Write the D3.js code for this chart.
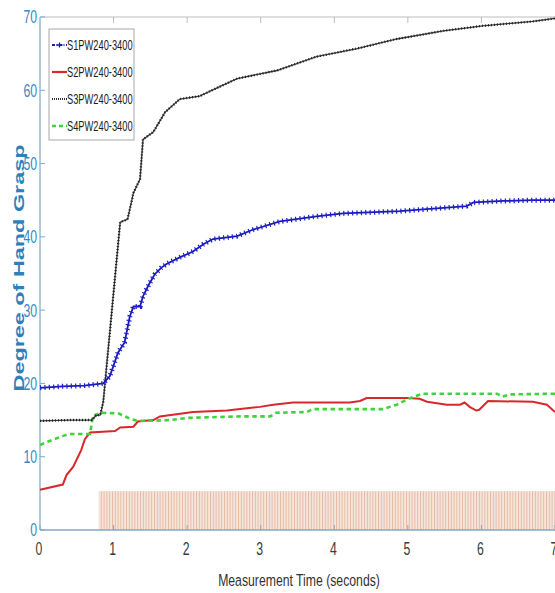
<!DOCTYPE html>
<html><head><meta charset="utf-8">
<script src="https://cdn.jsdelivr.net/npm/d3@7"></script>
<style>html,body{margin:0;padding:0;background:#fff;}svg{display:block;}</style>
</head><body>
<script>
// ---- data ----
const xTicks = [0,1,2,3,4,5,6,7];
const yTicks = [0,10,20,30,40,50,60,70];
const seriesNames = ["S1PW240-3400","S2PW240-3400","S3PW240-3400","S4PW240-3400"];

const s1T = [0,0.3,0.6,0.86,0.95,1.06,1.15,1.22,1.27,1.36,1.40,1.48,1.56,1.65,1.72,1.90,2.08,2.22,2.35,2.68,2.90,3.26,3.76,4.12,4.89,5.80,5.89,6.30,6.70,7.0];
const s1V = [19.4,19.6,19.7,20.0,21.0,24.2,25.6,29.1,30.5,30.5,31.9,33.5,34.9,35.8,36.3,37.2,38.0,39.0,39.7,40.1,41.0,42.1,42.8,43.2,43.5,44.2,44.7,44.9,45.0,45.0];

const s2T = [0,0.31,0.36,0.45,0.56,0.61,0.68,1.02,1.09,1.27,1.33,1.54,1.63,2.08,2.54,2.72,2.99,3.17,3.44,4.21,4.35,4.44,4.99,5.16,5.26,5.53,5.71,5.77,5.84,5.93,5.97,6.09,6.70,6.89,7.0];
const s2V = [5.5,6.2,7.5,8.6,10.9,12.4,13.3,13.5,14.0,14.1,14.8,15.0,15.5,16.1,16.3,16.5,16.8,17.1,17.4,17.4,17.6,18.0,18.0,17.9,17.5,17.1,17.1,17.4,16.8,16.3,16.4,17.6,17.5,17.1,16.1];

const s3T = [0,0.4,0.70,0.76,0.82,0.86,1.09,1.19,1.27,1.36,1.40,1.54,1.70,1.90,2.17,2.40,2.68,3.22,3.76,4.31,4.85,5.48,6.02,6.70,7.0];
const s3V = [14.9,15.0,15.0,15.6,15.7,17.5,42.0,42.4,46.0,47.9,53.3,54.3,57.0,58.8,59.2,60.3,61.6,62.7,64.6,65.7,67.0,68.1,68.8,69.4,69.8];

const s4T = [0,0.12,0.3,0.4,0.68,0.72,0.84,1.07,1.22,1.32,1.5,1.77,2.0,2.72,3.13,3.21,3.63,3.71,4.66,4.85,5.03,5.2,6.21,6.29,6.39,7.0];
const s4V = [11.6,12.1,12.8,13.1,13.1,15.6,16.0,15.9,15.2,14.9,14.9,15.0,15.3,15.5,15.5,16.0,16.1,16.5,16.5,17.1,18.0,18.6,18.6,18.2,18.5,18.6];

const stimStart = 0.8, stimEnd = 7, stimLevel = 5.3;

// ---- layout ----
const W = 555, H = 593;
const x = d3.scaleLinear().domain([0,7]).range([40,555]);
const y = d3.scaleLinear().domain([0,70]).range([530,17]);

const svg = d3.select("body").append("svg").attr("width",W).attr("height",H);
const defs = svg.append("defs");
const pat = defs.append("pattern").attr("id","stripes").attr("patternUnits","userSpaceOnUse")
  .attr("width",2.8).attr("height",10);
pat.append("rect").attr("width",2.8).attr("height",10).attr("fill","#f7e6dd");
pat.append("rect").attr("x",0).attr("width",1).attr("height",10).attr("fill","#e4bba6");

// stimulus band
svg.append("rect")
  .attr("x",x(stimStart)).attr("y",y(stimLevel))
  .attr("width",x(stimEnd)-x(stimStart)).attr("height",y(0)-y(stimLevel))
  .attr("fill","url(#stripes)");

// frame: top border
svg.append("line").attr("x1",x(0)).attr("x2",x(7)).attr("y1",y(70)).attr("y2",y(70))
  .attr("stroke","#bdbdbd").attr("stroke-width",1.2);
// top ticks
svg.selectAll(".tt").data(xTicks.filter(d=>d>0&&d<7)).join("line")
  .attr("x1",d=>x(d)).attr("x2",d=>x(d)).attr("y1",y(70)).attr("y2",y(70)+6)
  .attr("stroke","#bdbdbd");

// left axis
svg.append("line").attr("x1",x(0)).attr("x2",x(0)).attr("y1",y(0)).attr("y2",y(70))
  .attr("stroke","#78acd2").attr("stroke-width",1.2);
svg.selectAll(".yt").data(yTicks).join("line")
  .attr("x1",x(0)).attr("x2",x(0)+5).attr("y1",d=>y(d)).attr("y2",d=>y(d))
  .attr("stroke","#78acd2");
// bottom axis
svg.append("line").attr("x1",x(0)).attr("x2",x(7)).attr("y1",y(0)).attr("y2",y(0))
  .attr("stroke","#8aa6bf").attr("stroke-width",1.5);
svg.selectAll(".xt").data(xTicks).join("line")
  .attr("x1",d=>x(d)).attr("x2",d=>x(d)).attr("y1",y(0)).attr("y2",y(0)-5)
  .attr("stroke","#8aa6bf");

function ctext(parent, tx, ty, str, size, sx, color, anchor, weight){
  return parent.append("text")
    .attr("transform",`translate(${tx},${ty}) scale(${sx},1)`)
    .attr("text-anchor",anchor).attr("dominant-baseline","central")
    .attr("font-family","Liberation Sans, Arial, sans-serif")
    .attr("font-size",size).attr("font-weight",weight||"normal")
    .attr("fill",color).text(str);
}
// y tick labels
yTicks.forEach(d=>ctext(svg, 37, y(d), d, 18, 0.68, "#3487c2", "end"));
// x tick labels
xTicks.forEach(d=>ctext(svg, x(d)-1, 549, d, 18, 0.68, "#3a3a3a", "middle"));
// x title
ctext(svg, 299, 580, "Measurement Time (seconds)", 17, 0.72, "#333", "middle");
// y title
svg.append("text")
  .attr("transform",`translate(18,268) rotate(-90)`)
  .attr("text-anchor","middle").attr("dominant-baseline","central")
  .attr("font-family","Liberation Sans, Arial, sans-serif")
  .attr("font-size",15).attr("font-weight","bold").attr("fill","#2f7fb9")
  .attr("textLength",247).attr("lengthAdjust","spacingAndGlyphs")
  .text("Degree of Hand Grasp");

// ---- series ----
const line = d3.line().x(d=>x(d[0])).y(d=>y(d[1]));
const zip = (t,v)=>t.map((d,i)=>[d,v[i]]);
const g = svg.append("g");

// S2 red
g.append("path").datum(zip(s2T,s2V)).attr("d",line).attr("fill","none")
  .attr("stroke","#d8282c").attr("stroke-width",2);
// S4 green dashed
g.append("path").datum(zip(s4T,s4V)).attr("d",line).attr("fill","none")
  .attr("stroke","#3fd43a").attr("stroke-width",2.6).attr("stroke-dasharray","4.5,3.5");
// S3 black dotted
g.append("path").datum(zip(s3T,s3V)).attr("d",line).attr("fill","none")
  .attr("stroke","#3a3a3a").attr("stroke-width",1.3);
g.append("path").datum(zip(s3T,s3V)).attr("d",line).attr("fill","none")
  .attr("stroke","#222").attr("stroke-width",2.4).attr("stroke-dasharray","1,2");
// S1 blue with markers
g.append("path").datum(zip(s1T,s1V)).attr("d",line).attr("fill","none")
  .attr("stroke","#1a1ab8").attr("stroke-width",1.8);
g.append("path").datum(zip(s1T,s1V)).attr("d",line).attr("fill","none")
  .attr("stroke","#2020c8").attr("stroke-width",5).attr("stroke-dasharray","1.2,3.2");

// ---- legend ----
const lg = svg.append("g");
lg.append("rect").attr("x",49).attr("y",29).attr("width",85).attr("height",111)
  .attr("fill","#fff").attr("stroke","#a8a8a8").attr("stroke-width",1);
const rowY = [45,72,99,126];
const lstyles = [
  {c:"#1a1ab8", w:1.8, da:"3,1.5,1,1.5", marker:true},
  {c:"#d8282c", w:2.2, da:null},
  {c:"#333", w:1.8, da:"1,1"},
  {c:"#3fd43a", w:2.6, da:"4,3"}
];
seriesNames.forEach((n,i)=>{
  const s = lstyles[i];
  const l = lg.append("line").attr("x1",52).attr("x2",67).attr("y1",rowY[i]).attr("y2",rowY[i])
    .attr("stroke",s.c).attr("stroke-width",s.w);
  if(s.da) l.attr("stroke-dasharray",s.da);
  if(s.marker){
    lg.append("path").attr("d",`M${59.5-3},${rowY[i]}h6M${59.5},${rowY[i]-2.5}v5`)
      .attr("stroke",s.c).attr("stroke-width",1.3);
  }
  ctext(lg, 67, rowY[i], n, 15.5, 0.6, "#1e1e1e", "start");
});
</script>
</body></html>
